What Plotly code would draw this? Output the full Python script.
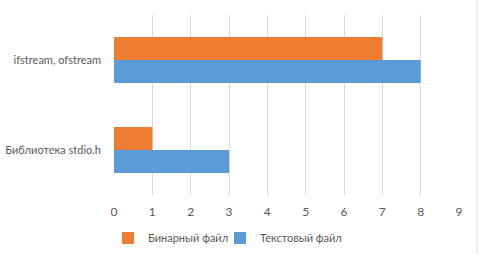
import plotly.graph_objects as go

categories = ["Библиотека stdio.h", "ifstream, ofstream"]
binary_vals = [1, 7]
text_vals = [3, 8]
x_ticks = [0, 1, 2, 3, 4, 5, 6, 7, 8, 9]

orange = "#ED7D31"
blue = "#5B9BD5"
font_color = "#595959"
font_family = "Lato, Open Sans, sans-serif"

fig = go.Figure()
fig.add_trace(go.Bar(y=categories, x=text_vals, orientation="h", name="Текстовый файл",
                     marker=dict(color=blue, line=dict(width=0)), legend="legend2"))
fig.add_trace(go.Bar(y=categories, x=binary_vals, orientation="h", name="Бинарный файл",
                     marker=dict(color=orange, line=dict(width=0)), legend="legend"))

leg_common = dict(orientation="h", xanchor="left", yref="container",
                  y=(254-238)/254, yanchor="middle", xref="container",
                  font=dict(size=11, color=font_color, family=font_family),
                  itemwidth=30, bgcolor="rgba(0,0,0,0)")

fig.update_layout(
    width=479, height=254,
    margin=dict(l=114, r=20, t=15, b=59, autoexpand=False),
    paper_bgcolor="white", plot_bgcolor="white",
    barmode="group", bargap=0.49, bargroupgap=0,
    font=dict(family=font_family, size=11, color=font_color),
    showlegend=True,
    legend=dict(x=108/479, **leg_common),
    legend2=dict(x=220/479, **leg_common),
    xaxis=dict(range=[0, 9], tickvals=x_ticks, showgrid=True, gridcolor="#D9D9D9",
               gridwidth=1, zeroline=False, showline=False, ticks="",
               ticklabelstandoff=8, automargin=False,
               tickfont=dict(size=12, color=font_color), fixedrange=True),
    yaxis=dict(showgrid=False, zeroline=False, showline=False, ticks="",
               ticklabelstandoff=12, automargin=False,
               tickfont=dict(size=11, color=font_color)),
)
fig.add_shape(type="line", xref="paper", yref="paper", x0=1 + 18/345, x1=1 + 18/345,
              y0=-59/180, y1=1 + 15/180, line=dict(color="#D9D9D9", width=1))

fig.write_html("out.html", config={"displayModeBar": False},
               post_script="document.body.style.margin='0';")
